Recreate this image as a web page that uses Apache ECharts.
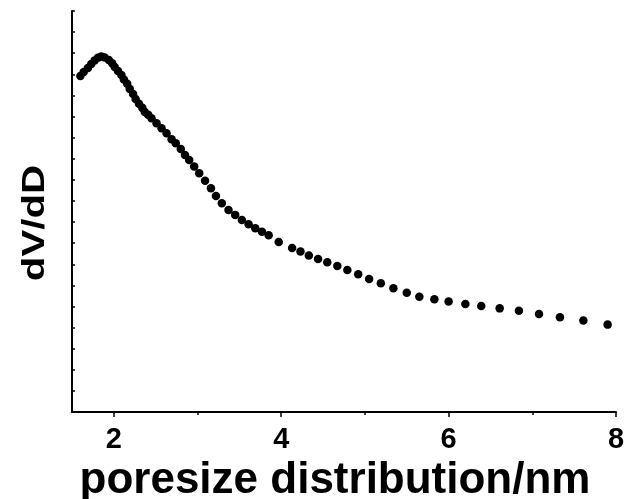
<!DOCTYPE html>
<html>
<head>
<meta charset="utf-8">
<script src="https://cdn.jsdelivr.net/npm/echarts@6/dist/echarts.min.js"></script>
<style>
  html, body { margin: 0; padding: 0; background: #fff; }
  #main { width: 628px; height: 499px; }
</style>
</head>
<body>
<div id="main"></div>
<script>
// pore diameter (nm) and dV/dD (arbitrary units)
const poreSize = [
  1.60, 1.64, 1.69, 1.73, 1.77, 1.81, 1.85, 1.89, 1.94, 1.98,
  2.01, 2.05, 2.09, 2.12, 2.16, 2.19, 2.23, 2.26, 2.30, 2.34,
  2.37, 2.41, 2.45, 2.51, 2.57, 2.63, 2.69, 2.74, 2.80, 2.85,
  2.90, 2.96, 3.02, 3.09, 3.16, 3.22, 3.29, 3.37, 3.45, 3.53,
  3.61, 3.69, 3.77, 3.85, 3.97, 4.13, 4.23, 4.33, 4.44, 4.55,
  4.67, 4.79, 4.92, 5.05, 5.19, 5.34, 5.50, 5.65, 5.83, 6.00,
  6.20, 6.39, 6.61, 6.84, 7.08, 7.33, 7.61, 7.90
];
const dVdD = [
  15.92, 16.11, 16.30, 16.49, 16.66, 16.78, 16.85, 16.80, 16.68, 16.52,
  16.35, 16.16, 15.97, 15.76, 15.55, 15.31, 15.07, 14.83, 14.60, 14.41,
  14.22, 14.08, 13.92, 13.68, 13.45, 13.21, 12.92, 12.73, 12.46, 12.18,
  11.94, 11.63, 11.31, 10.96, 10.60, 10.24, 9.89, 9.57, 9.34, 9.10,
  8.90, 8.71, 8.54, 8.37, 8.06, 7.77, 7.60, 7.41, 7.25, 7.09,
  6.92, 6.73, 6.53, 6.30, 6.10, 5.86, 5.65, 5.46, 5.34, 5.23,
  5.12, 5.02, 4.91, 4.80, 4.64, 4.49, 4.33, 4.14
];
const majorTicks = [2, 4, 6, 8];
const minorTicks = [3, 5, 7];

const font = "'Liberation Sans', Arial, sans-serif";
const chart = echarts.init(document.getElementById("main"));

const lineStyle = { color: "#000", width: 2 };

chart.setOption({
  animation: false,
  backgroundColor: "#fff",
  grid: { left: 72, right: 12, top: 11, bottom: 87, outerBoundsMode: "none", containLabel: false },
  xAxis: [
    {
      type: "value",
      min: 1.5,
      max: 8,
      axisLine: { show: true, onZero: false, lineStyle },
      axisTick: { show: true, length: 5, customValues: majorTicks, lineStyle: { color: "#000", width: 1.5 } },
      axisLabel: {
        customValues: majorTicks,
        margin: 13,
        color: "#000",
        fontFamily: font,
        fontWeight: "bold",
        fontSize: 29,
      },
      splitLine: { show: false },
      name: "poresize distribution/nm",
      nameLocation: "middle",
      nameGap: 38,
      nameTextStyle: {
        color: "#000",
        fontFamily: font,
        fontWeight: "bold",
        fontSize: 44,
        padding: [0, 18, 0, 0],
      },
    },
    {
      type: "value",
      position: "bottom",
      min: 1.5,
      max: 8,
      axisLine: { show: false },
      axisTick: { show: true, length: 3, customValues: minorTicks, lineStyle: { color: "#000", width: 1.5 } },
      axisLabel: { show: false },
      splitLine: { show: false },
    },
  ],
  yAxis: {
    type: "value",
    min: 0,
    max: 19,
    interval: 1,
    axisLine: { show: true, onZero: false, lineStyle },
    axisTick: { show: true, inside: true, length: 3, lineStyle: { color: "#000", width: 1.5 } },
    axisLabel: { show: false },
    splitLine: { show: false },
  },
  graphic: [
    {
      type: "text",
      x: 35,
      y: 223,
      rotation: Math.PI / 2,
      scaleX: 1.3,
      style: {
        text: "dV/dD",
        fill: "#000",
        font: "bold 31px " + font,
        textAlign: "center",
        textVerticalAlign: "middle",
      },
    },
  ],
  series: [
    {
      type: "scatter",
      xAxisIndex: 0,
      data: poreSize.map((x, i) => [x, dVdD[i]]),
      symbol: "circle",
      symbolSize: 8.5,
      itemStyle: { color: "#000", opacity: 1 },
    },
  ],
});
</script>
</body>
</html>
